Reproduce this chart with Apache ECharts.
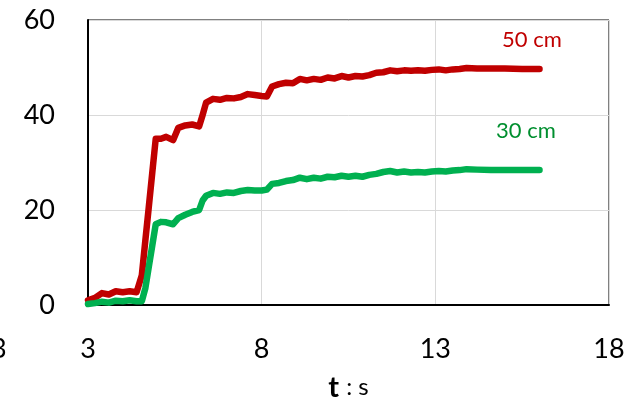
<!DOCTYPE html>
<html>
<head>
<meta charset="utf-8">
<script src="https://cdn.jsdelivr.net/npm/echarts@6/dist/echarts.min.js"></script>
<style>
html,body{margin:0;padding:0;background:#fff;}
#chart{width:633px;height:402px;}
</style>
</head>
<body>
<div id="chart"></div>
<script>
var timeS = [3.0,3.2,3.4,3.6,3.8,4.0,4.2,4.4,4.55,4.65,4.75,4.85,4.95,5.1,5.25,5.45,5.6,5.8,6.0,6.2,6.3,6.4,6.6,6.8,7.0,7.2,7.4,7.6,7.8,8.0,8.15,8.3,8.5,8.7,8.9,9.1,9.3,9.5,9.7,9.9,10.1,10.3,10.5,10.7,10.9,11.1,11.3,11.5,11.7,11.9,12.1,12.3,12.5,12.7,12.9,13.1,13.3,13.5,13.7,13.9,14.2,14.6,15.0,15.5,16.0];
var cm50 = [1.0,1.5,2.5,2.2,2.9,2.7,2.9,2.7,6.3,13.5,20.6,27.8,35.0,35.0,35.4,34.7,37.3,37.8,38.0,37.6,40.0,42.6,43.4,43.2,43.6,43.5,43.8,44.4,44.2,44.0,43.9,46.0,46.5,46.8,46.7,47.6,47.3,47.6,47.4,47.9,47.7,48.2,47.9,48.2,48.1,48.4,48.9,49.0,49.4,49.2,49.4,49.3,49.4,49.3,49.5,49.6,49.4,49.6,49.7,49.9,49.8,49.8,49.8,49.7,49.7];
var cm30 = [0.2,0.4,0.7,0.5,0.9,0.8,1.0,0.8,0.8,3.5,8.0,12.5,17.0,17.5,17.4,17.0,18.3,19.0,19.6,20.0,22.0,23.0,23.6,23.4,23.7,23.6,24.0,24.2,24.1,24.1,24.3,25.5,25.7,26.1,26.3,26.8,26.5,26.8,26.6,27.0,26.9,27.2,27.0,27.2,27.0,27.4,27.6,28.0,28.2,27.9,28.1,27.9,28.0,27.9,28.1,28.2,28.1,28.3,28.4,28.6,28.5,28.4,28.4,28.4,28.4];
var seriesNames = ['50 cm','30 cm'];
var xTicks = [3, 8, 13, 18];
var yTicks = [0, 20, 40, 60];

function pairs(xs, ys){ return xs.map(function(x,i){ return [x, ys[i]]; }); }

var FONT = 'Lato, "Open Sans", sans-serif';
var chart = echarts.init(document.getElementById('chart'));
chart.setOption({
  animation: false,
  backgroundColor: '#fff',
  grid: {left: 88, right: 24, top: 20, bottom: 97, show: true, borderColor: '#000', borderWidth: 1,
         containLabel: false, outerBoundsMode: 'none'},
  xAxis: {
    type: 'value', min: xTicks[0], max: xTicks[xTicks.length-1], interval: 5,
    axisLine: {show: true, onZero: false, lineStyle: {color: '#000', width: 2}},
    axisTick: {show: false},
    splitLine: {show: true, lineStyle: {color: '#d9d9d9', width: 1}},
    axisLabel: {fontFamily: FONT, fontSize: 27, color: '#000', margin: 31},
    name: '{b|t}{n|: s}',
    nameLocation: 'middle', nameGap: 68,
    nameTextStyle: {rich: {
      b: {fontFamily: FONT, fontSize: 29, fontWeight: 'bold', color: '#000', padding: [0, 7, 0, 0]},
      n: {fontFamily: FONT, fontSize: 24, color: '#000'}
    }}
  },
  yAxis: {
    type: 'value', min: yTicks[0], max: yTicks[yTicks.length-1], interval: 20,
    axisLine: {show: true, lineStyle: {color: '#000', width: 2}},
    axisTick: {show: false},
    splitLine: {show: true, lineStyle: {color: '#d9d9d9', width: 1}},
    axisLabel: {fontFamily: FONT, fontSize: 27, color: '#000', margin: 33}
  },
  series: [
    {name: seriesNames[0], type: 'line', data: pairs(timeS, cm50), showSymbol: false, smooth: false,
     lineStyle: {color: '#c00000', width: 6.5, cap: 'round', join: 'round'}, itemStyle: {color: '#c00000'}},
    {name: seriesNames[1], type: 'line', data: pairs(timeS, cm30), showSymbol: false, smooth: false,
     lineStyle: {color: '#00b050', width: 6.5, cap: 'round', join: 'round'}, itemStyle: {color: '#00b050'}}
  ],
  graphic: [
    {type: 'text', left: 502, top: 29, style: {text: seriesNames[0], fontFamily: FONT, fontSize: 22, fill: '#c00000'}},
    {type: 'text', left: 496, top: 120, style: {text: seriesNames[1], fontFamily: FONT, fontSize: 22, fill: '#008f2f'}},
    {type: 'text', left: -9, top: 336, style: {text: '3', fontFamily: FONT, fontSize: 27, fill: '#000'}}
  ]
});
</script>
</body>
</html>
